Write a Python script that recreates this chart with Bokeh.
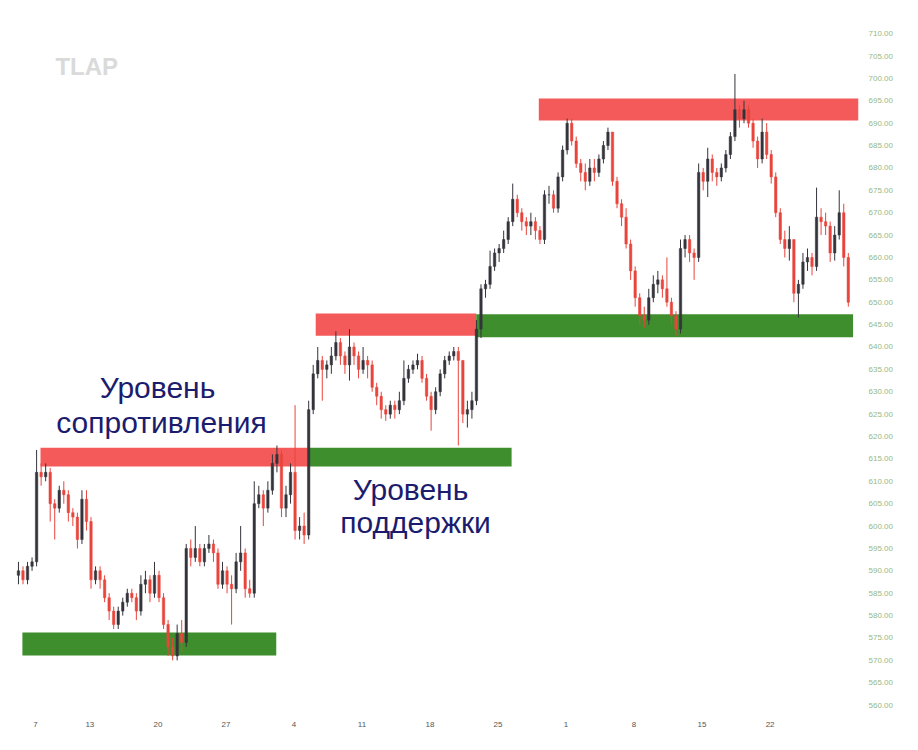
from bokeh.plotting import figure
from bokeh.models import ColumnDataSource, Range1d, FixedTicker, PrintfTickFormatter
from bokeh.core.properties import value
from bokeh.embed import file_html
from bokeh.resources import INLINE

# ---- data ----
closes = [590,588,591,592,612,611,612,605,604,608,
          607,603,602,597,606,601,588,590,588,584,
          581,578,581,583,585,584,581,587,588,585,
          589,584,578,573,571,576,574,595,593,595,
          592,595,596,594,587,590,587,586,592,594,
          586,585,605,607,604,608,614,616,604,607,
          612,599,600,598,626,634,637,635,636,638,
          641,638,636,640,638,635,637,636,631,629,
          626,625,627,626,628,633,635,636,637,633,
          629,626,630,634,637,638,639,637,625,626,
          628,644,653,654,658,661,662,664,668,673,
          670,668,667,668,666,664,674,674,671,678,
          684,690,686,681,679,677,680,679,682,685,
          688,677,672,669,663,657,651,647,646,651,
          654,655,653,650,647,644,662,664,661,660,
          679,677,682,679,678,680,683,687,693,691,
          693,690,686,682,688,683,678,670,664,662,
          664,652,654,659,660,658,669,668,667,661,
          665,670,660,650]
first_open = 589
highs = [592,591,592,593,617,614,614,613,606,609,
         610,608,604,603,608,608,602,591,591,589,
         585,582,582,584,586,586,585,589,590,589,
         592,590,585,579,575,578,579,596,597,600,
         596,596,598,597,595,592,591,589,594,600,
         595,588,610,609,608,610,616,618,617,609,
         614,627,602,603,628,636,640,638,637,640,
         643.5,642,639,644,641,639,640,638,637,632,
         630,627,628,628,630,637,636,637,638.5,638,
         634,630,631,635,638,639,640,640,637,628,
         630,646,654,655,661.5,662,663,666,669,676.5,
         674,671,669,670,669,667,675,676,675,679,
         685,691,691,687,682,681,682,682,683,686,
         689,688,678,673,671,664,658,652,649,653,
         656,657,656,660,651,648,664,665,665,662,
         681,680,684.5,683,680,681,684,688,701,694,
         695,694,691,687,691,690,684,679,671,666,
         667,664,655,661,662,661,675.6,671,670,668,
         667,675,672,661]
lows = [587,587,587,590,591,609,610,601,597,603,
        605,601,600,595,596,599,586,587,586,583,
        579,577,577,580,582,583,579,580,585,583,
        584,583,577,571,570,570,572,573,591,592,
        591,591,594,592,586,586,585,578,585,590,
        584,584,584,604,600,603,607,612,602,602,
        605,597,597,596,597,625,633,628,633,634,
        637,636,634,632.5,636,633,634,633,630,627,
        624,623.5,624,624,625,627,632,634,635,632,
        628,621.3,625,629,633,636,637,618,623,622,
        624,627,642,651,653,657,659,661,663,667,
        669,666,665,665,664,663,663,672,670,670,
        677,683,685,680,677,675,676,677,678,681,
        684,676,671,667,662,655,649,645,644.3,645,
        650,652,651,649,645,642.5,643,660,659,655,
        659,675,673.5,677,676,677,679,682,686,689,
        690,689,684.5,680,681,682,676.5,669,663,660,
        659.3,650,646.6,653,657,656,657,665,665,659,
        659.3,664,658,649]
start_day = -1.25
candles_per_day = 3

# support / resistance zones: (x0, x1, price_low, price_high)
zone_x0 = [-0.96, 0.37, 20.0, 20.6, 32.4, 37.0]
zone_x1 = [17.7, 20.0, 35.0, 32.4, 60.1, 60.5]
zone_lo = [571.1, 613.3, 613.3, 642.5, 642.2, 690.6]
zone_hi = [576.2, 617.5, 617.5, 647.5, 647.3, 695.5]
zone_kind = ["support", "resistance", "support", "resistance", "support", "resistance"]

y_ticks = list(range(560, 715, 5))
x_tick_pos = [0, 4, 9, 14, 19, 24, 29, 34, 39, 44, 49, 54]
x_tick_lab = ["7", "13", "20", "27", "4", "11", "18", "25", "1", "8", "15", "22"]

# ---- build ----
n = len(closes)
opens = [first_open] + closes[:-1]
xs = [start_day + i / candles_per_day for i in range(n)]
bull = "#34343c"
bear = "#e8453c"
colors = [bull if c >= o else bear for o, c in zip(opens, closes)]
src = ColumnDataSource(dict(x=xs, o=opens, c=closes, h=highs, l=lows,
                            top=[max(a, b) for a, b in zip(opens, closes)],
                            bot=[min(a, b) for a, b in zip(opens, closes)],
                            color=colors))

p = figure(width=918, height=750, output_backend="svg", toolbar_location=None,
           x_range=Range1d(-2.57, 60.5), y_range=Range1d(558.8, 717.4),
           y_axis_location="right", min_border_left=0, min_border_right=60,
           min_border_top=0, min_border_bottom=40)
p.outline_line_color = None
p.grid.visible = False
p.background_fill_color = "white"

zcol = {"support": "#3f8e2d", "resistance": "#f55a5a"}
zsrc = ColumnDataSource(dict(left=zone_x0, right=zone_x1, bottom=zone_lo, top=zone_hi,
                             color=[zcol[k] for k in zone_kind]))
p.quad(left="left", right="right", bottom="bottom", top="top", color="color",
       line_color=None, source=zsrc)

p.segment(x0="x", x1="x", y0="l", y1="h", color="color", line_width=1, source=src)
p.vbar(x="x", width=0.18, top="top", bottom="bot", fill_color="color",
       line_color="color", line_width=0.5, source=src)

font = value("Liberation Sans")
p.text(x=[1.47], y=[702.7], text=["TLAP"], text_font=font, text_font_style="bold",
       text_font_size="24px", text_color="#dadada", text_align="left",
       text_baseline="alphabetic")

labels_x = [8.97, 9.26, 27.57, 27.94]
labels_y = [631.0, 623.2, 608.1, 600.8]
labels_t = ["Уровень", "сопротивления", "Уровень", "поддержки"]
p.text(x=labels_x, y=labels_y, text=labels_t, text_font=font, text_font_size="30px",
       text_color="#1c1c6e", text_align="center", text_baseline="alphabetic")

ya = p.yaxis[0]
ya.ticker = FixedTicker(ticks=y_ticks)
ya.formatter = PrintfTickFormatter(format="%.2f")
ya.axis_line_color = None
ya.major_tick_line_color = None
ya.minor_tick_line_color = None
ya.major_label_standoff = 4
ya.major_label_text_font = "Liberation Sans"
ya.major_label_text_font_size = "8px"
ya.major_label_text_color = "#94b986"

xa = p.xaxis[0]
xa.ticker = FixedTicker(ticks=x_tick_pos)
xa.major_label_overrides = {pos: lab for pos, lab in zip(x_tick_pos, x_tick_lab)}
xa.axis_line_color = None
xa.major_tick_line_color = None
xa.minor_tick_line_color = None
xa.major_label_standoff = 5
xa.major_label_text_font = "Liberation Sans"
xa.major_label_text_font_size = "8px"
xa.major_label_text_color = "#555555"

open("out.html", "w").write(file_html(p, INLINE))
